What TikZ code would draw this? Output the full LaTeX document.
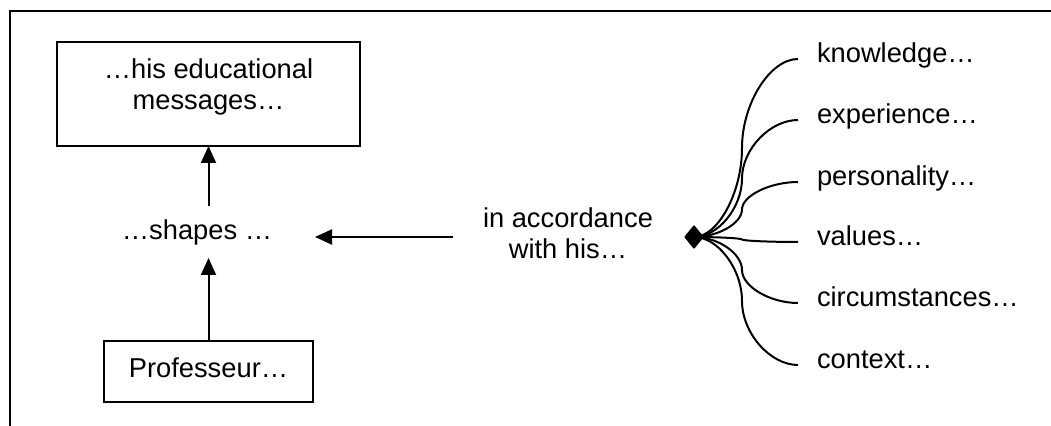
\documentclass[tikz,border=0pt]{standalone}
\usepackage{fontspec}
\setmainfont{Liberation Sans}
\usetikzlibrary{arrows.meta,shapes.geometric}
\begin{document}
\begin{tikzpicture}[x=0.5pt,y=-0.5pt,
  every node/.style={font=\fontsize{13.65}{15.75}\selectfont, inner sep=0pt, outer sep=0pt},
  box/.style={draw, line width=1pt, align=center},
  arr/.style={line width=1pt, -{Triangle[length=8.5pt,width=7.5pt]}},
  curve/.style={line width=1pt},
  frame/.style={line width=1pt},
  lab/.style={anchor=base west},
  tip/.style={diamond, draw, fill, line width=1pt, line join=round, minimum width=8.5pt, minimum height=10.5pt}]
\useasboundingbox (0,0) rectangle (1051,426);
\draw[frame] (10,426) -- (10,11) -- (1051,11);

\node[box, minimum width=151.5pt, minimum height=52pt, text depth=9.9pt] (msg) at (208.5,94) {…his educational\\messages…};
\node[minimum width=118pt, minimum height=26pt] (shapes) at (197,232) {…shapes …};
\node[box, minimum width=104.5pt, minimum height=30.5pt, text depth=4.25pt] (prof) at (208.5,371.5) {Professeur…};
\node[align=center, minimum width=115pt] (acc) at (568,233) {in accordance\\with his…};
\node[tip] (dia) at (694,237) {};

\draw[arr] (msg.south |- shapes.north) -- (msg.south);
\draw[arr] (prof.north) -- (prof.north |- shapes.south);
\draw[arr] (acc.west |- dia.center) -- (shapes.east |- dia.center);

\foreach \n/\y/\t in {k/59/knowledge…, e/120/experience…, p/182/personality…, v/242/values…, c/303/circumstances…, ctx/365/context…}{
  \node[lab] (\n) at (817,{\y+4}) {\t};
  \draw[curve] (dia.center) .. controls (718,237) and (742,{237+(\y-237)/4}) .. (742,{(237+\y)/2}) .. controls (742,{237+3*(\y-237)/4}) and (770,\y) .. ([xshift=-9.5pt,yshift=2pt]\n.base west);
}
\end{tikzpicture}
\end{document}
